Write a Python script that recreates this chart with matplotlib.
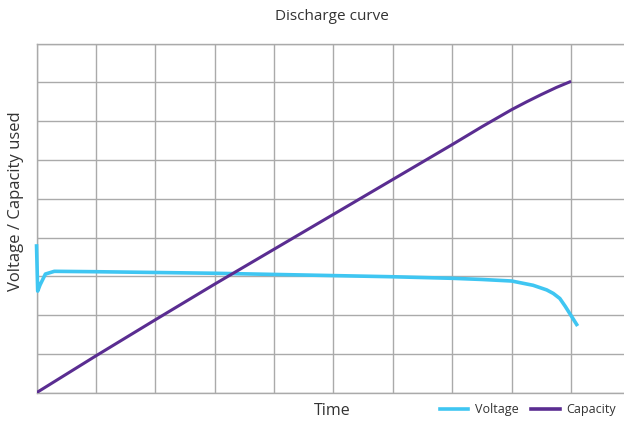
import numpy as np
import matplotlib
matplotlib.use("Agg")
import matplotlib.pyplot as plt
from matplotlib.lines import Line2D

plt.rcParams["font.family"] = ["Open Sans", "DejaVu Sans"]

TEXT = "#333333"
GRID = "#aaaaaa"
VOLT_COLOR = "#3fc6f2"
CAP_COLOR = "#5a2d91"

# voltage curve (time in grid units)
volt_t = [0, 0.02, 0.06, 0.15, 0.3, 1, 2, 3, 4, 5, 6, 7, 7.5, 8,
          8.36, 8.59, 8.7, 8.81, 8.9, 9.11]
volt_v = [3.83, 2.62, 2.78, 3.06, 3.13, 3.12, 3.10, 3.08, 3.05, 3.02,
          2.99, 2.95, 2.92, 2.88, 2.77, 2.65, 2.56, 2.43, 2.23, 1.72]

# capacity used
cap_t = [0, 1, 2, 3, 4, 5, 6, 7, 7.5, 8, 8.25, 8.5, 8.75, 9]
cap_v = [0, 0.95, 1.88, 2.8, 3.7, 4.6, 5.5, 6.4, 6.86, 7.3, 7.5, 7.69, 7.87, 8.03]

fig = plt.figure(figsize=(6.24, 4.21), dpi=100)
# the grid runs past the right edge of the picture
ax = fig.add_axes([36.5 / 624, 28.3 / 421, 594 / 624, 349 / 421])

ax.plot(volt_t, volt_v, color=VOLT_COLOR, linewidth=2.6, solid_joinstyle="round",
        solid_capstyle="butt", zorder=3, clip_on=False)
ax.plot(cap_t, cap_v, color=CAP_COLOR, linewidth=2.2, solid_capstyle="butt", zorder=3)

ax.set_xlim(0, 10)
ax.set_ylim(0, 9)
ax.set_xticks(np.arange(0, 11, 1))
ax.set_yticks(np.arange(0, 10, 1))
ax.tick_params(length=0, labelbottom=False, labelleft=False)
ax.grid(True, color=GRID, linewidth=1.0)
for side in ["left", "right", "top", "bottom"]:
    ax.spines[side].set_color(GRID)
    ax.spines[side].set_linewidth(1.0)
ax.set_axisbelow(True)

fig.text(332 / 624, 1 - 17 / 421, "Discharge curve", ha="center", va="center",
         fontsize=11, color=TEXT)
fig.text(332 / 624, 1 - 411 / 421, "Time", ha="center", va="center",
         fontsize=11.5, color=TEXT)
fig.text(16 / 624, 1 - 201 / 421, "Voltage / Capacity used", ha="center", va="center",
         rotation=90, fontsize=12, color=TEXT)

handles = [Line2D([], [], color=VOLT_COLOR, linewidth=2.6),
           Line2D([], [], color=CAP_COLOR, linewidth=2.6)]
fig.legend(handles, ["Voltage", "Capacity"], loc="center right",
           bbox_to_anchor=(623 / 624, 1 - 410 / 421), ncol=2, frameon=False,
           fontsize=9, handlelength=2.3, handletextpad=0.5, columnspacing=1.0,
           labelcolor=TEXT, borderaxespad=0.2)

fig.savefig("out.png", dpi=100)
